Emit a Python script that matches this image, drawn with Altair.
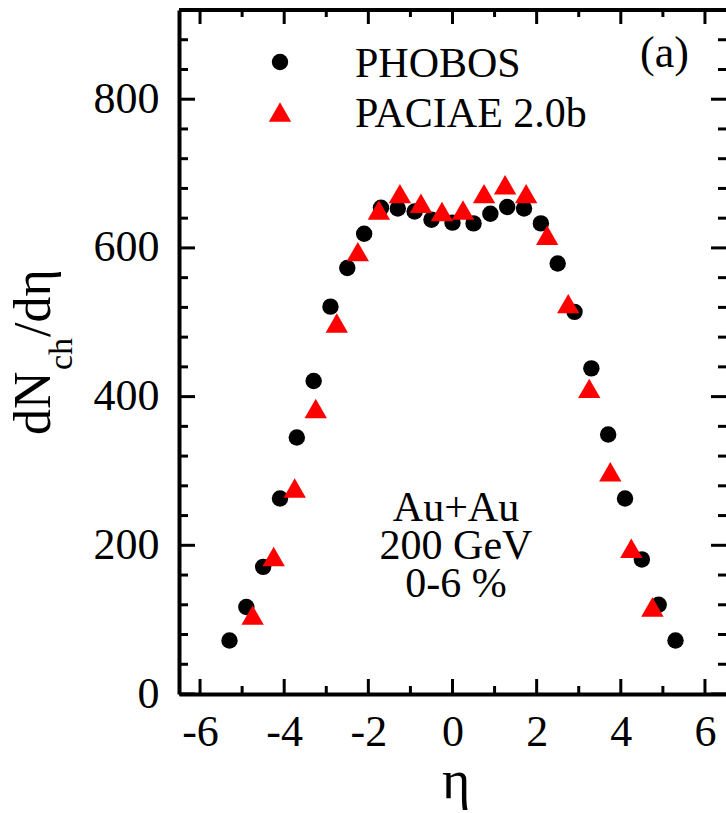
import altair as alt
import pandas as pd

# ---------------- data ----------------
phobos_eta = [-5.3, -4.9, -4.5, -4.1, -3.7, -3.3, -2.9, -2.5, -2.1, -1.7, -1.3, -0.9, -0.5, 0.0,
              0.5, 0.9, 1.3, 1.7, 2.1, 2.5, 2.9, 3.3, 3.7, 4.1, 4.5, 4.9, 5.3]
phobos_dn = [72, 117, 171, 263, 345, 421, 521, 573, 619, 654, 653, 649, 638, 634,
             633, 646, 655, 653, 633, 579, 514, 438, 349, 263, 181, 120, 72]

paciae_eta = [-4.75, -4.25, -3.75, -3.25, -2.75, -2.25, -1.75, -1.25, -0.75, -0.25,
              0.25, 0.75, 1.25, 1.75, 2.25, 2.75, 3.25, 3.75, 4.25, 4.75]
paciae_dn = [106, 185, 277, 384, 499, 595, 651, 673, 660, 649,
             651, 673, 685, 673, 617, 525, 411, 299, 196, 117]

x_major = [-6, -4, -2, 0, 2, 4, 6]
x_minor = [-5, -3, -1, 1, 3, 5]
y_major = [0, 200, 400, 600, 800]
y_minor = [v for v in range(40, 920, 40) if v % 200 != 0]

legend_labels = ["PHOBOS", "PACIAE 2.0b"]
annotation = ["Au+Au", "200 GeV", "0-6 %"]
panel_label = "(a)"

# ---------------- layout ----------------
W, H = 547, 684
FONT = "Liberation Serif"
xs = alt.Scale(domain=[-6.5, 6.5], nice=False, zero=False)
ys = alt.Scale(domain=[0, 920], nice=False, zero=False)

df_ph = pd.DataFrame({"eta": phobos_eta, "dn": phobos_dn})
df_pa = pd.DataFrame({"eta": paciae_eta, "dn": paciae_dn})
df_xmaj = pd.DataFrame({"v": x_major})
df_xmin = pd.DataFrame({"v": x_minor})
df_ymaj = pd.DataFrame({"v": y_major})
df_ymin = pd.DataFrame({"v": y_minor})
one = pd.DataFrame({"k": [0]})

x_axis = alt.Axis(values=x_major, ticks=False, tickSize=0, grid=False, domain=True,
                  domainWidth=4, domainColor="black", labelFont=FONT, labelFontSize=44,
                  labelColor="black", labelPadding=16, title=None, labelOverlap=False,
                  labelFlush=False, labelExpr="replace(datum.label, '\u2212', '-')")
y_axis = alt.Axis(values=y_major, ticks=False, tickSize=0, grid=False, domain=True,
                  domainWidth=4, domainColor="black", labelFont=FONT, labelFontSize=44,
                  labelColor="black", labelPadding=20, title=None, labelOverlap=False,
                  labelFlush=False)


def X(field):
    return alt.X(field, scale=xs, axis=x_axis)


def Y(field):
    return alt.Y(field, scale=ys, axis=y_axis)


phobos = alt.Chart(df_ph).mark_point(shape="circle", filled=True, size=270, color="black",
                                     opacity=1, strokeWidth=0).encode(
    x=X("eta:Q"), y=Y("dn:Q"))
paciae = alt.Chart(df_pa).mark_point(shape="triangle-up", filled=True, size=500, color="#ff0000",
                                     opacity=1, strokeWidth=0).encode(
    x=X("eta:Q"), y=Y("dn:Q"))


def xticks(df, length):
    bottom = alt.Chart(df).mark_rule(color="black", strokeWidth=3).encode(
        x=X("v:Q"), y=alt.value(H), y2=alt.value(H - length))
    top = alt.Chart(df).mark_rule(color="black", strokeWidth=3).encode(
        x=X("v:Q"), y=alt.value(0), y2=alt.value(length - 1))
    return [bottom, top]


def yticks(df, length):
    left = alt.Chart(df).mark_rule(color="black", strokeWidth=3).encode(
        y=Y("v:Q"), x=alt.value(0), x2=alt.value(length))
    right = alt.Chart(df).mark_rule(color="black", strokeWidth=3).encode(
        y=Y("v:Q"), x=alt.value(W), x2=alt.value(W - length + 1))
    return [left, right]


top_line = alt.Chart(one).mark_rule(color="black", strokeWidth=4).encode(
    x=alt.value(0), x2=alt.value(W), y=alt.value(0))

# legend (manual)
leg_c = alt.Chart(one).mark_point(shape="circle", filled=True, size=270, color="black",
                                  opacity=1, strokeWidth=0).encode(
    x=alt.value(101), y=alt.value(52))
leg_t = alt.Chart(one).mark_point(shape="triangle-up", filled=True, size=500, color="#ff0000",
                                  opacity=1, strokeWidth=0).encode(
    x=alt.value(101), y=alt.value(102))
leg_txt1 = alt.Chart(one).mark_text(text=legend_labels[0], font=FONT, fontSize=42, align="left",
                                    baseline="alphabetic", color="black").encode(
    x=alt.value(176), y=alt.value(67))
leg_txt2 = alt.Chart(one).mark_text(text=legend_labels[1], font=FONT, fontSize=42, align="left",
                                    baseline="alphabetic", color="black").encode(
    x=alt.value(176), y=alt.value(117))
lab_a = alt.Chart(one).mark_text(text=panel_label, font=FONT, fontSize=44, align="left",
                                 baseline="alphabetic", color="black").encode(
    x=alt.value(461), y=alt.value(57))

ann = alt.Chart(one).mark_text(text=annotation, font=FONT, fontSize=42, align="center",
                               baseline="alphabetic", lineHeight=38, color="black").encode(
    x=alt.value(277), y=alt.value(511))

# axis titles
xtitle = alt.Chart(one).mark_text(text="η", font=FONT, fontSize=54, align="center",
                                  baseline="alphabetic", color="black").encode(
    x=alt.value(277), y=alt.value(788))
yt1 = alt.Chart(one).mark_text(text="dN", font=FONT, fontSize=52, align="left", angle=270,
                               baseline="alphabetic", color="black").encode(
    x=alt.value(-129), y=alt.value(425))
yt2 = alt.Chart(one).mark_text(text="ch", font=FONT, fontSize=34, align="left", angle=270,
                               baseline="alphabetic", color="black").encode(
    x=alt.value(-107), y=alt.value(360))
yt3 = alt.Chart(one).mark_text(text="/dη", font=FONT, fontSize=52, align="left", angle=270,
                               baseline="alphabetic", color="black").encode(
    x=alt.value(-129), y=alt.value(327))

layers = [phobos]
layers += xticks(df_xmaj, 15) + xticks(df_xmin, 8)
layers += yticks(df_ymaj, 16) + yticks(df_ymin, 9)
layers += [top_line, leg_c, leg_t, leg_txt1, leg_txt2, lab_a, ann, xtitle, yt1, yt2, yt3, paciae]

chart = alt.layer(*layers).properties(
    width=W, height=H,
    padding={"left": 179, "top": 10, "right": 0, "bottom": 119},
    autosize=alt.AutoSizeParams(type="none"),
    background="white",
).configure_view(stroke=None)

chart.save("out.html", embed_options={"renderer": "svg", "actions": False})
